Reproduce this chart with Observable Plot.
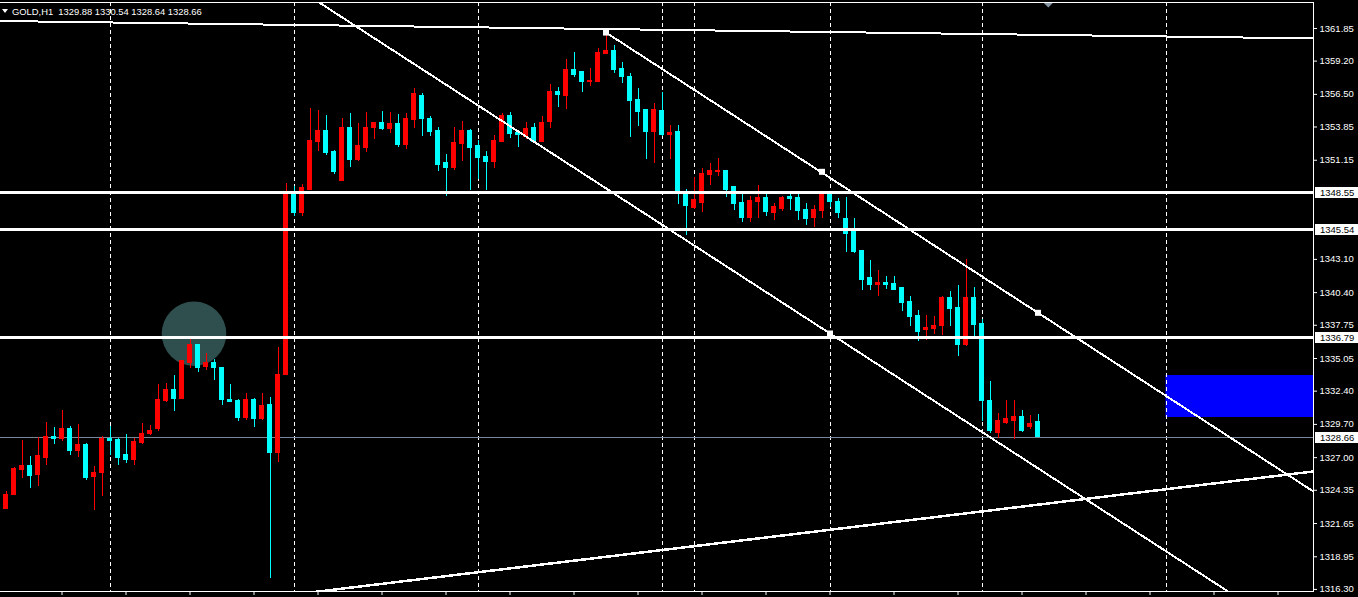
<!DOCTYPE html>
<html><head><meta charset="utf-8">
<script src="https://cdn.jsdelivr.net/npm/d3@7"></script>
<script src="https://cdn.jsdelivr.net/npm/@observablehq/plot@0.6"></script>
<style>html,body{margin:0;padding:0;background:#000;overflow:hidden}#chart svg{display:block}</style>
</head><body><div id="chart"></div>
<script>
// ---- data ----
const symbolName = "GOLD,H1";
const lastQuote = [1329.88, 1330.54, 1328.64, 1328.66]; // O H L C of last bar
const opens = [1322.87,1323.93,1325.98,1326.36,1325.55,1326.96,1328.66,1328.48,1329.29,1327.52,1327.99,1325.39,1325.72,1328.50,1328.40,1327.18,1326.77,1328.15,1328.88,1329.29,
1331.64,1332.53,1331.80,1334.65,1336.11,1334.40,1334.65,1334.24,1331.72,1331.56,1330.18,1331.72,1330.10,1331.24,1327.34,1333.75,1348.45,1346.83,1348.77,1352.62,
1353.56,1351.86,1349.50,1353.73,1351.21,1352.18,1353.73,1354.21,1353.65,1354.13,1352.35,1354.38,1356.33,1354.54,1353.56,1350.89,1350.56,1352.51,1353.56,1352.27,
1351.45,1350.97,1352.67,1354.78,1353.40,1353.00,1353.73,1352.67,1354.24,1356.73,1356.35,1358.44,1358.28,1357.52,1357.54,1359.74,1360.06,1358.52,1357.95,1356.08,
1355.19,1353.48,1355.11,1353.16,1353.48,1348.45,1347.31,1347.64,1349.99,1350.22,1350.24,1348.94,1347.64,1346.42,1347.80,1348.12,1346.83,1347.23,1348.20,1348.12,
1347.15,1346.42,1346.99,1348.29,1347.80,1346.34,1345.44,1343.82,1341.55,1340.98,1341.22,1341.14,1340.74,1339.60,1338.54,1337.33,1337.41,1337.65,1340.00,1339.19,
1336.11,1340.00,1337.89,1331.56,1329.04,1329.85,1329.94,1330.34,1329.45,1329.88];
const highs = [1324.25,1326.20,1328.39,1327.10,1328.66,1329.86,1329.45,1330.83,1329.50,1329.69,1328.13,1326.30,1328.72,1329.53,1328.56,1328.88,1328.58,1329.77,1329.61,1332.94,
1333.02,1333.67,1334.90,1336.68,1336.19,1335.46,1334.97,1334.32,1332.94,1331.72,1332.21,1331.80,1332.21,1331.88,1335.95,1349.24,1349.00,1349.20,1355.35,1355.19,
1354.78,1351.94,1354.54,1354.94,1354.13,1355.03,1354.25,1355.11,1355.03,1354.86,1354.94,1356.97,1356.57,1354.70,1353.81,1351.62,1353.81,1354.30,1353.65,1352.75,
1351.86,1353.16,1354.94,1355.03,1353.56,1354.21,1354.13,1354.70,1357.30,1357.06,1359.33,1359.90,1358.30,1358.60,1360.22,1361.44,1360.47,1359.09,1358.19,1356.97,
1355.22,1355.76,1356.65,1353.97,1353.97,1348.77,1349.75,1350.48,1350.89,1351.29,1350.32,1349.02,1348.45,1348.20,1349.10,1348.45,1347.64,1348.20,1348.37,1348.45,
1347.64,1347.47,1348.45,1348.45,1348.04,1348.12,1346.42,1343.85,1343.01,1342.20,1341.71,1341.71,1340.78,1340.09,1338.95,1338.54,1338.46,1340.09,1340.49,1340.98,
1343.09,1340.82,1338.22,1333.18,1330.59,1331.64,1331.64,1330.83,1330.42,1330.54];
const lows = [1322.80,1323.90,1325.33,1324.50,1324.68,1326.39,1328.10,1328.34,1327.18,1327.04,1325.17,1322.74,1323.85,1327.20,1326.36,1326.53,1326.36,1328.10,1328.80,1329.13,
1331.48,1330.75,1331.70,1334.24,1333.92,1334.08,1333.27,1331.24,1331.45,1329.94,1330.02,1329.45,1330.02,1317.21,1326.61,1333.70,1346.60,1346.60,1348.70,1351.86,
1351.53,1350.02,1349.45,1350.59,1351.07,1351.80,1352.83,1353.60,1353.32,1352.18,1352.02,1353.73,1353.08,1353.08,1350.26,1348.20,1350.32,1351.05,1348.69,1349.58,
1348.69,1350.48,1352.59,1352.92,1352.18,1352.83,1352.59,1352.59,1353.73,1355.46,1355.29,1357.87,1356.65,1357.14,1357.46,1359.70,1358.22,1357.38,1353.00,1353.89,
1351.21,1350.89,1353.08,1351.21,1347.56,1345.00,1347.15,1346.91,1349.10,1349.83,1348.12,1347.07,1346.09,1346.09,1346.42,1346.58,1346.26,1346.99,1347.07,1346.26,
1345.85,1345.69,1346.42,1347.31,1346.42,1343.66,1343.58,1340.57,1340.57,1340.09,1340.65,1340.57,1338.87,1337.65,1336.43,1336.51,1337.00,1336.92,1337.65,1335.21,
1336.03,1336.59,1329.94,1329.00,1328.56,1329.69,1328.48,1329.04,1329.29,1328.64];
const closes = [1323.93,1326.04,1326.36,1325.50,1327.10,1328.64,1328.50,1329.29,1327.52,1327.99,1325.33,1325.72,1328.48,1328.34,1327.01,1326.77,1328.23,1328.96,1329.20,1331.72,
1332.53,1331.80,1334.81,1336.11,1334.32,1334.65,1334.24,1331.72,1331.48,1330.18,1331.72,1330.10,1331.16,1327.34,1333.75,1348.45,1346.83,1348.90,1352.75,1353.56,
1351.72,1350.18,1353.73,1351.21,1352.27,1353.73,1354.21,1353.65,1354.13,1352.35,1354.46,1356.49,1354.46,1353.48,1350.80,1350.56,1352.59,1353.56,1352.18,1351.37,
1350.97,1352.75,1354.78,1353.32,1353.16,1353.65,1352.67,1354.21,1356.73,1356.41,1358.44,1358.11,1357.54,1357.57,1359.82,1360.06,1358.44,1357.87,1356.00,1355.05,
1353.48,1355.27,1353.24,1353.40,1348.69,1347.47,1347.96,1350.07,1350.24,1350.25,1348.77,1347.56,1346.50,1347.88,1348.12,1346.91,1347.39,1348.12,1348.04,1346.99,
1346.34,1347.15,1348.29,1347.72,1346.83,1345.20,1343.66,1341.39,1340.98,1341.22,1341.06,1340.65,1339.52,1338.46,1337.24,1337.49,1337.73,1340.00,1339.11,1336.11,
1340.00,1337.81,1331.56,1329.20,1329.94,1330.10,1330.26,1329.20,1329.77,1328.66];

const priceTicks = [1361.85,1359.20,1356.50,1353.85,1351.15,1343.10,1340.40,1337.75,1335.05,1332.40,1329.70,1327.00,1324.35,1321.65,1318.95,1316.30];
const levelPrices = [1348.55, 1345.54, 1336.79];
const bidPrice = 1328.66;
const separatorBars = [13, 36, 59, 82, 86, 103, 122, 145];
const timeTickBars = [7,15,23,31,39,47,55,63,71,79,87,95,103,111,119,127,135,143,151,159];
// trend lines: two anchor points each (bar index, price)
const topLine = [[0, 1362.45], [160, 1361.07]];
const channelUpper = [[75, 1361.52], [129, 1338.76]];
const channelLower = [[103, 1337.08], [123.5, 1328.45]];
const risingLine = [[39.06, 1316.13], [163.44, 1325.88]];
const channelAnchors = [[75, 1361.52], [102, 1350.21], [129, 1338.76], [103, 1337.08]];
const zone = {x1: 145, y1: 1330.26, y2: 1333.67};
const circleMark = {x: 23.5, y: 1337.06};
const shiftBar = 130.35;

// ---- chart ----
const W = 1358, H = 597, mL = 0, mR = 45, mT = 2, mB = 6;
const xDomain = [-0.6875, 163.4375];
const yDomain = [1316.13, 1363.96];
const candles = opens.map((o, i) => ({i, o, h: highs[i], l: lows[i], c: closes[i]}));
const bulls = candles.filter(d => d.c >= d.o);
const bears = candles.filter(d => d.c < d.o);
const BULL = "#ff0000", BEAR = "#00ffff";
const FONT = "'Liberation Sans', Arial, sans-serif";

function extend([[xa, ya], [xb, yb]], x0, x1) {
  const k = (yb - ya) / (xb - xa);
  return [[x0, ya + k * (x0 - xa)], [x1, ya + k * (x1 - xa)]];
}
const lineOpts = (w) => ({x: d => d[0], y: d => d[1], stroke: "white", strokeWidth: w, clip: true, shapeRendering: "crispEdges"});

function candleMarks(data, color) {
  return [
    Plot.ruleX(data, {x: "i", y1: "l", y2: "h", stroke: color, strokeWidth: 1, shapeRendering: "crispEdges"}),
    Plot.rect(data, {x1: d => d.i - 0.3125, x2: d => d.i + 0.3125,
      y1: d => Math.min(d.o, d.c), y2: d => Math.max(d.o, d.c),
      fill: color, insetTop: -0.5, insetBottom: -0.5, shapeRendering: "crispEdges"})
  ];
}

const chart = Plot.plot({
  width: W, height: H, marginLeft: mL, marginRight: mR, marginTop: mT, marginBottom: mB,
  x: {domain: xDomain, label: null},
  y: {domain: yDomain, label: null},
  style: {background: "#000", color: "#fff", fontFamily: FONT, fontSize: "9.5px"},
  marks: [
    Plot.dot([circleMark], {x: "x", y: "y", r: 32.3, fill: "#2f4f4f", stroke: null}),
    Plot.rect([zone], {x1: "x1", x2: () => 200, y1: "y1", y2: "y2", fill: "#0000ff", clip: true}),
    Plot.ruleX(separatorBars, {stroke: "white", strokeWidth: 1, strokeDasharray: "4,3", shapeRendering: "crispEdges"}),
    Plot.ruleY([bidPrice], {stroke: "#778899", strokeWidth: 1, shapeRendering: "crispEdges"}),
    ...candleMarks(bulls, BULL),
    ...candleMarks(bears, BEAR),
    Plot.ruleY(levelPrices, {stroke: "white", strokeWidth: 3, shapeRendering: "crispEdges"}),
    Plot.line(extend(topLine, -5, 200), lineOpts(2)),
    Plot.line(extend(channelUpper, channelUpper[0][0], 200), lineOpts(2)),
    Plot.line(extend(channelLower, -5, 200), lineOpts(2)),
    Plot.line(extend(risingLine, 30, 200), lineOpts(2.5)),
    Plot.dot(channelAnchors, {x: d => d[0], y: d => d[1], symbol: "square", r: 3.4, fill: "white", stroke: null}),
    Plot.axisY(priceTicks, {anchor: "right", tickSize: 3, tickPadding: 3, tickFormat: d => d.toFixed(2), fill: "#fff", stroke: "#fff"}),
    Plot.axisX(timeTickBars, {anchor: "bottom", tickSize: 4, tickFormat: () => "", stroke: "#fff"})
  ]
});
document.getElementById("chart").append(chart);

// frame lines, highlighted price labels and header
const svg = d3.select(chart);
const ys = chart.scale("y"), xs = chart.scale("x");
const right = W - mR, bottom = H - mB;
const g = svg.append("g").attr("shape-rendering", "crispEdges");
g.append("line").attr("x1", 0).attr("x2", right + 0.5).attr("y1", mT + 0.5).attr("y2", mT + 0.5).attr("stroke", "#fff");
g.append("line").attr("x1", 0).attr("x2", right + 0.5).attr("y1", bottom + 0.5).attr("y2", bottom + 0.5).attr("stroke", "#fff");
g.append("line").attr("x1", right + 0.5).attr("x2", right + 0.5).attr("y1", mT).attr("y2", bottom + 1).attr("stroke", "#fff");

const t = svg.append("g").attr("text-anchor", "start").style("font", `9.5px ${FONT}`);
for (const v of [...levelPrices, bidPrice]) {
  const yy = Math.round(ys.apply(v));
  g.append("rect").attr("x", right + 2).attr("y", yy - 5).attr("width", W - right - 2).attr("height", 11).attr("fill", "#fff");
  t.append("text").attr("x", right + 7).attr("y", yy + 4).attr("fill", "#000").attr("text-anchor", "start").text(v.toFixed(2));
}

svg.append("polygon").attr("points", "2,9 8,9 5,13").attr("fill", "#fff");
svg.append("text").attr("x", 12).attr("y", 15).attr("fill", "#fff").attr("text-anchor", "start")
  .attr("xml:space", "preserve").style("white-space", "pre").style("font", `9.4px ${FONT}`)
  .text(`${symbolName}  ${lastQuote.map(d => d.toFixed(2)).join(" ")}`);

const sx = xs.apply(shiftBar);
svg.append("polygon").attr("points", `${sx - 4.5},3 ${sx + 4.5},3 ${sx},7.5`).attr("fill", "#8595a5");
</script>
</body></html>
